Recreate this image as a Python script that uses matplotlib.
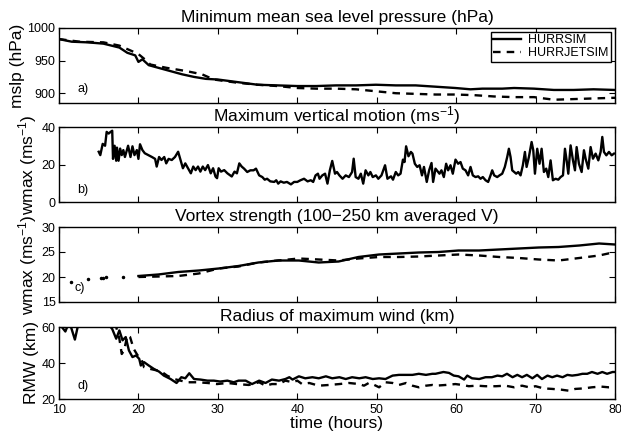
import matplotlib
matplotlib.use("Agg")
import matplotlib.pyplot as plt
from matplotlib.lines import Line2D

plt.rcParams['font.family'] = ['Liberation Sans', 'DejaVu Sans']
plt.rcParams['mathtext.fontset'] = 'custom'
plt.rcParams['mathtext.rm'] = 'Liberation Sans'
plt.rcParams['mathtext.it'] = 'Liberation Sans:italic'
plt.rcParams['mathtext.bf'] = 'Liberation Sans:bold'

# ---------------- data ----------------
# (a) minimum mean sea level pressure (hPa)
a_hurr_t = [10.0, 11.6, 13.6, 15.6, 16.6, 17.6, 18.6, 19.6, 20.0, 20.5, 21.3, 22.5, 24.0, 25.5, 27.0,
            28.5, 30.0, 32.5, 35.0, 37.5, 40.0, 42.4, 44.9, 47.4, 49.9, 52.4, 54.9, 57.4, 59.9, 61.8,
            63.3, 65.8, 67.3, 69.8, 72.3, 74.8, 77.3, 80.0]
a_hurr_v = [983, 979, 978, 976, 973, 970, 962, 958, 948, 952, 943, 939, 934, 929, 925,
            922, 921, 917, 913, 912, 911, 911, 912, 912, 913, 912, 912, 910, 908, 906,
            907, 907, 908, 907, 905, 905, 906, 905]
a_jet_t = [10.0, 12.6, 15.6, 17.6, 19.1, 20.0, 20.8, 21.5, 23.5, 26.0, 28.0, 29.5, 32.5, 35.0, 37.5,
           40.0, 42.4, 44.9, 47.4, 49.9, 52.4, 54.9, 57.4, 59.9, 62.3, 64.8, 67.3, 69.8, 72.3, 74.8,
           77.3, 80.0]
a_jet_v = [983, 979, 978, 973, 965, 960, 952, 944, 939, 934, 929, 921, 916, 913, 911,
           908, 907, 907, 906, 903, 900, 899, 898, 898, 897, 895, 894, 894, 890, 891,
           892, 893]

# (b) maximum vertical motion (m/s), HURRSIM
b_t = [15.0, 15.2, 15.5, 15.8, 16.0, 16.25, 16.5, 16.7, 16.8, 17.0, 17.2, 17.3, 17.5, 17.7, 17.9,
       18.1, 18.3, 18.7, 19.0, 19.25, 19.5, 19.8, 20.0, 20.2, 20.5, 20.8, 21.25, 21.7, 22.1, 22.3,
       22.6, 22.9, 23.25, 23.5, 23.8, 24.2, 24.6, 25.0, 25.3, 25.6, 25.9, 26.25, 26.6, 26.9, 27.2,
       27.5, 27.8, 28.1, 28.4, 28.75, 29.1, 29.4, 29.7, 29.9, 30.1, 30.4, 30.8, 31.2, 31.5, 31.75,
       32.1, 32.4, 32.7, 33.0, 33.3, 33.7, 34.1, 34.5, 34.8, 35.2, 35.6, 35.9, 36.2, 36.6, 37.1,
       37.35, 37.6, 37.9, 38.3, 38.7, 39.2, 39.6, 40.0, 40.4, 40.85, 41.3, 41.7, 42.0, 42.3, 42.6,
       42.8, 43.15, 43.5, 43.8, 44.1, 44.4, 44.75, 45.0, 45.3, 45.7, 46.1, 46.5, 46.9, 47.1, 47.35,
       47.7, 48.0, 48.3, 48.6, 48.95, 49.2, 49.5, 49.9, 50.2, 50.6, 51.05, 51.35, 51.8, 52.05, 52.4,
       52.7, 53.0, 53.3, 53.5, 53.7, 54.0, 54.3, 54.5, 54.8, 55.1, 55.4, 55.7, 55.95, 56.3, 56.6,
       56.9, 57.1, 57.4, 57.9, 58.15, 58.45, 58.74, 58.99, 59.29, 59.58, 59.92, 60.25, 60.55, 60.84,
       61.18, 61.51, 61.81, 62.1, 62.44, 62.77, 63.07, 63.36, 63.7, 64.03, 64.33, 64.54, 64.79, 65.17,
       65.46, 65.8, 66.13, 66.43, 66.64, 66.85, 67.06, 67.31, 67.56, 67.82, 68.11, 68.4, 68.66, 68.87,
       69.16, 69.5, 69.71, 69.92, 70.21, 70.5, 70.76, 71.05, 71.34, 71.6, 71.89, 72.18, 72.52, 72.86,
       73.15, 73.45, 73.7, 73.91, 74.12, 74.41, 74.71, 74.96, 75.17, 75.46, 75.8, 76.09, 76.3, 76.64,
       76.93, 77.23, 77.56, 77.9, 78.19, 78.4, 78.61, 78.91, 79.24, 79.58, 79.87]
b_v = [26.8, 25.0, 31.0, 30.0, 37.4, 36.5, 37.4, 38.0, 23.0, 30.0, 22.0, 29.0, 22.0, 28.5, 25.0,
       27.7, 24.0, 30.0, 24.0, 29.7, 25.0, 27.7, 23.0, 30.8, 27.7, 26.0, 25.0, 24.0, 23.0, 18.9,
       24.0, 22.4, 24.0, 20.6, 23.0, 22.4, 24.0, 26.8, 22.4, 18.0, 20.6, 18.0, 15.3, 18.9, 17.0,
       18.9, 16.2, 18.9, 17.0, 19.7, 15.3, 18.0, 13.6, 12.7, 18.0, 16.2, 17.0, 15.3, 14.4, 13.6,
       16.2, 15.3, 20.6, 18.9, 17.8, 16.0, 16.9, 16.9, 17.8, 14.2, 13.3, 11.9, 12.4, 11.0, 10.7,
       11.6, 9.8, 11.0, 10.3, 10.7, 9.4, 10.7, 10.7, 11.6, 12.4, 11.0, 11.6, 10.7, 14.2, 15.1,
       12.4, 14.2, 15.1, 9.8, 16.9, 21.9, 15.1, 16.0, 14.2, 12.4, 14.2, 13.3, 16.0, 23.1, 13.3,
       12.4, 15.1, 9.8, 16.9, 14.2, 16.0, 13.3, 14.2, 12.4, 14.2, 19.6, 12.4, 13.7, 11.9, 16.0,
       14.2, 15.1, 22.6, 21.3, 29.7, 24.4, 26.7, 25.8, 20.4, 18.7, 19.6, 14.2, 18.7, 10.7, 16.9,
       20.8, 10.7, 17.8, 15.1, 16.9, 13.3, 20.4, 16.9, 19.6, 15.1, 22.6, 20.4, 21.3, 17.8,
       16.9, 14.2, 18.7, 14.2, 13.3, 13.7, 12.4, 13.3, 11.6, 10.7, 14.2, 16.9, 14.2, 13.3,
       14.2, 15.1, 18.7, 24.0, 28.4, 24.0, 16.9, 16.0, 15.1, 16.0, 14.2, 19.6, 26.7, 18.7,
       24.0, 32.0, 27.6, 15.1, 28.4, 20.4, 28.4, 16.0, 17.8, 13.3, 22.2, 11.6, 12.4, 11.9,
       13.3, 14.2, 28.4, 22.2, 15.1, 30.2, 22.2, 16.9, 29.3, 20.4, 16.0, 27.6, 23.1, 17.8,
       29.3, 23.1, 25.8, 22.2, 26.7, 34.7, 26.7, 24.9, 26.7, 24.9, 25.8]

# (c) vortex strength, 100-250 km averaged V (m/s)
c_hurr_t = [20.0, 22.5, 25.0, 27.6, 30.1, 32.6, 35.1, 37.6, 40.2, 42.7, 45.2, 47.7, 50.3, 52.8,
            55.3, 57.8, 60.3, 62.9, 65.4, 67.9, 70.4, 72.9, 75.5, 78.0, 80.0]
c_hurr_v = [20.2, 20.5, 21.0, 21.3, 21.7, 22.2, 22.9, 23.3, 23.3, 22.9, 23.1, 24.0, 24.5, 24.7,
            24.9, 25.0, 25.3, 25.3, 25.5, 25.7, 25.9, 26.0, 26.3, 26.7, 26.5]
c_jet_t = [20.0, 22.5, 25.0, 27.6, 30.1, 32.6, 35.1, 37.6, 40.2, 42.7, 45.2, 47.7, 50.3, 52.8,
           55.3, 57.8, 60.3, 62.9, 65.4, 67.9, 70.4, 72.9, 75.5, 78.0, 80.0]
c_jet_v = [20.0, 20.1, 20.2, 20.7, 21.7, 22.1, 22.9, 23.3, 23.7, 23.5, 23.3, 23.7, 24.0, 24.0,
           24.1, 24.3, 24.5, 24.3, 24.0, 23.8, 23.5, 23.3, 23.8, 24.3, 25.0]
c_early_t = [11.5, 13.6, 15.3, 15.6, 15.9, 18.1]
c_early_v = [19.0, 19.7, 19.8, 19.9, 20.0, 20.1]

# (d) radius of maximum wind (km)
d_hurr_t = [10.0, 10.8, 11.3, 12.0, 12.6, 14.0, 16.0, 16.5, 16.7, 17.2, 17.6, 18.0, 18.4, 18.8,
            19.25, 19.7, 20.1, 20.3, 20.7, 21.3, 21.95, 22.6, 23.2, 24.05, 24.8, 25.4, 25.9, 26.4,
            27.0, 27.8, 28.7, 29.5, 30.3, 31.2, 32.0, 32.6, 33.5, 34.3, 35.2, 36.0, 36.8, 37.7,
            38.5, 39.0, 39.4, 40.2, 41.0, 41.9, 42.7, 43.6, 44.4, 45.3, 46.1, 46.9, 47.8, 48.6,
            49.5, 50.3, 51.1, 52.0, 52.8, 53.7, 54.5, 55.3, 56.2, 57.0, 57.4, 58.4, 59.1, 59.7,
            60.3, 61.0, 61.4, 62.0, 62.9, 63.7, 64.5, 65.2, 65.8, 66.4, 67.1, 67.7, 68.3, 68.9,
            69.6, 70.2, 70.8, 71.5, 72.1, 72.7, 73.4, 74.0, 74.6, 75.3, 75.9, 76.5, 77.1, 77.8,
            78.4, 79.0, 79.7, 80.0]
d_hurr_v = [62.0, 57.5, 63.0, 53.0, 65.0, 70.0, 66.0, 60.0, 58.9, 53.5, 58.1, 52.6, 54.4, 47.0,
            43.3, 44.2, 42.3, 38.6, 40.5, 38.6, 36.7, 35.2, 33.0, 31.1, 28.9, 32.1, 31.5, 34.3,
            31.1, 30.8, 30.2, 30.2, 29.7, 30.2, 29.3, 30.2, 30.2, 28.3, 30.2, 28.9, 30.8, 30.2,
            31.1, 32.1, 30.8, 32.6, 31.5, 32.1, 31.5, 32.6, 31.5, 32.1, 31.1, 32.1, 31.5, 32.1,
            31.1, 31.5, 31.1, 33.0, 33.4, 33.4, 33.4, 34.0, 33.4, 34.0, 34.0, 35.0, 34.5, 33.0,
            32.6, 30.8, 33.0, 31.5, 31.1, 32.1, 32.1, 33.0, 32.6, 34.0, 32.1, 33.4, 32.1, 33.4,
            31.5, 33.4, 31.1, 33.0, 32.1, 33.0, 32.1, 33.4, 33.0, 33.4, 34.0, 34.0, 35.0, 34.0,
            35.0, 34.0, 35.0, 35.0]
d_jet_t = [16.8, 17.2, 17.6, 17.9, 18.2, 18.6, 18.95, 19.4, 19.9, 20.3, 20.7, 21.5, 22.4, 23.0,
           23.6, 24.5, 25.3, 26.2, 27.4, 28.7, 29.9, 31.2, 32.4, 33.9, 35.2, 36.0, 36.8, 37.7,
           38.5, 39.4, 40.0, 40.6, 41.5, 42.7, 44.0, 45.3, 46.5, 47.8, 48.4, 49.0, 49.7, 50.3,
           51.1, 52.0, 52.8, 53.7, 54.5, 55.3, 56.2, 57.0, 57.4, 58.7, 59.9, 60.8, 61.6, 62.6,
           63.7, 65.0, 66.2, 67.3, 68.3, 69.2, 70.0, 71.0, 72.1, 73.2, 74.2, 75.0, 76.1, 77.1,
           78.2, 79.2, 80.0]
d_jet_v = [62.0, 60.0, 53.5, 45.0, 47.0, 55.3, 54.4, 47.9, 44.2, 43.3, 37.7, 36.7, 35.8, 34.9,
           33.0, 31.1, 30.2, 29.3, 29.3, 28.9, 28.3, 28.9, 28.3, 27.8, 29.3, 27.4, 28.3, 28.3,
           30.2, 29.3, 30.2, 28.3, 28.9, 27.4, 27.8, 28.3, 28.9, 28.3, 27.4, 28.9, 27.8, 26.5,
           29.3, 28.9, 27.8, 28.9, 27.4, 26.5, 27.4, 27.8, 27.4, 27.8, 28.3, 27.8, 27.1, 27.4,
           27.1, 27.1, 27.4, 26.5, 27.4, 26.5, 27.1, 25.9, 25.6, 25.2, 24.6, 25.6, 25.9, 26.5,
           26.9, 26.5, 26.5]

x_ticks = [10, 20, 30, 40, 50, 60, 70, 80]
titles = ["Minimum mean sea level pressure (hPa)",
          "Maximum vertical motion (ms$^{-1}$)",
          "Vortex strength (100\u2212250 km averaged V)",
          "Radius of maximum wind (km)"]
ylabels = ["mslp (hPa)", "wmax (ms$^{-1}$)", "wmax (ms$^{-1}$)", "RMW (km)"]
panel_tags = ["a)", "b)", "c)", "d)"]
series_names = ["HURRSIM", "HURRJETSIM"]

# ---------------- figure ----------------
fig = plt.figure(figsize=(6.21, 4.37), dpi=100)
left, width = 59 / 621, (615 - 59) / 621
boxes = [(28, 103), (127, 202), (227, 302), (327, 399)]
axes = []
for top, bot in boxes:
    ax = fig.add_axes([left, 1 - bot / 437, width, (bot - top) / 437])
    axes.append(ax)

LW = 1.7
dash = (0, (3.2, 2.6))

ax = axes[0]
ax.plot(a_hurr_t, a_hurr_v, color='k', lw=LW, solid_joinstyle='round')
ax.plot(a_jet_t, a_jet_v, color='k', lw=LW, linestyle=dash)
ax.set_ylim(885, 1000)
ax.set_yticks([900, 950, 1000])

ax = axes[1]
ax.plot(b_t, b_v, color='k', lw=LW, solid_joinstyle='round')
ax.set_ylim(0, 40)
ax.set_yticks([0, 20, 40])

ax = axes[2]
ax.plot(c_hurr_t, c_hurr_v, color='k', lw=LW)
ax.plot(c_jet_t, c_jet_v, color='k', lw=LW, linestyle=dash)
ax.plot(c_early_t, c_early_v, 'k.', markersize=3)
ax.set_ylim(15, 30)
ax.set_yticks([15, 20, 25, 30])

ax = axes[3]
ax.plot(d_hurr_t, d_hurr_v, color='k', lw=LW, solid_joinstyle='round')
ax.plot(d_jet_t, d_jet_v, color='k', lw=LW, linestyle=dash)
ax.set_ylim(20, 60)
ax.set_yticks([20, 40, 60])
ax.set_xlabel("time (hours)", fontsize=12.5, labelpad=0)

tag_pos = [(12.3, 906), (12.3, 6.4), (12.0, 17.8), (12.3, 27)]
for i, ax in enumerate(axes):
    ax.set_xlim(10, 80)
    ax.set_xticks(x_ticks)
    if i < 3:
        ax.set_xticklabels([])
    ax.tick_params(direction='in', top=True, right=True, length=4, width=0.8,
                   labelsize=9)
    ax.tick_params(axis='y', pad=2.5)
    ax.tick_params(axis='x', pad=3.5)
    for s in ax.spines.values():
        s.set_linewidth(1.0)
    ax.set_title(titles[i], fontsize=12.5, pad=4)
    ax.set_ylabel(ylabels[i], fontsize=12.5, labelpad=2)
    ax.text(tag_pos[i][0], tag_pos[i][1], panel_tags[i], fontsize=9, va='center', ha='left')

handles = [Line2D([], [], color='k', lw=LW),
           Line2D([], [], color='k', lw=LW, linestyle=dash)]
leg = axes[0].legend(handles, series_names, loc='upper right', fontsize=9,
                     frameon=True, fancybox=False, framealpha=1, edgecolor='k',
                     borderaxespad=0.3, handlelength=2.2, borderpad=0.2,
                     labelspacing=0.1, handletextpad=0.6)
leg.get_frame().set_linewidth(1.0)

fig.savefig("out.png", dpi=100)
